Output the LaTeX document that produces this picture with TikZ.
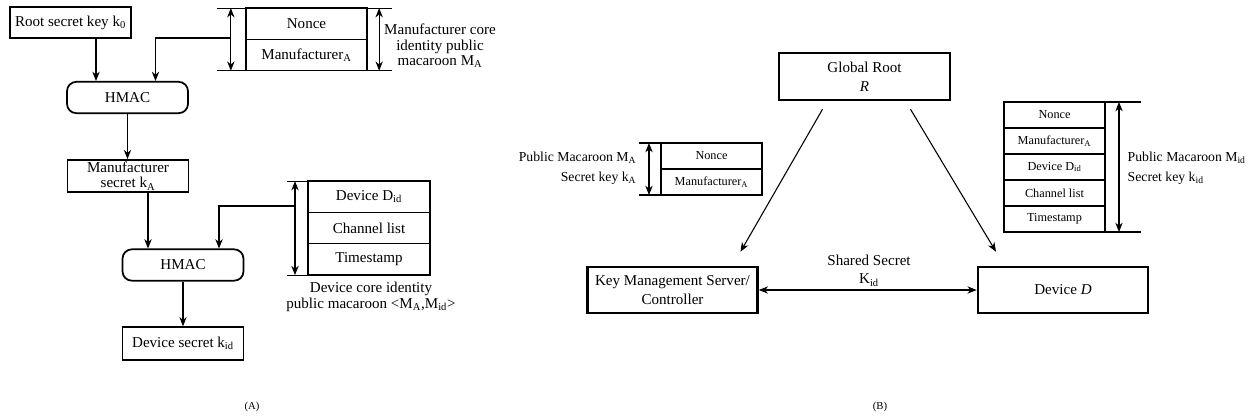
\documentclass[tikz,border=0pt]{standalone}
\usepackage{fontspec}
\setmainfont{Liberation Serif}
\usetikzlibrary{arrows.meta,positioning}

\newcommand\fntA{\fontsize{11.3}{11.5}\selectfont}
\newcommand\fntB{\fontsize{11.3}{14}\selectfont}
\newcommand\fntS{\fontsize{9.2}{11}\selectfont}
\newcommand\fntL{\fontsize{10.3}{15}\selectfont}
\newcommand\fntC{\fontsize{8}{9}\selectfont}

\begin{document}
\begin{tikzpicture}[x=0.75pt,y=-0.75pt,
    box/.style={draw, line width=1.3pt, minimum width=90.75pt, minimum height=23.5pt,
      inner sep=0.5pt, align=center, font=\fntA},
    hmac/.style={box, rounded corners=7pt},
    cellA/.style={draw, line width=1.1pt, outer sep=0pt, minimum width=91pt,
      minimum height=23.5pt, inner sep=0pt, font=\fntA},
    cellB/.style={draw, line width=0.9pt, outer sep=0pt, minimum width=75.75pt,
      minimum height=19.5pt, inner sep=0pt, font=\fntS},
    bigbox/.style={draw, line width=1.9pt, minimum width=127.5pt, minimum height=34.5pt,
      inner sep=1pt, align=center, font=\fntB},
    arr/.style={-{Stealth[length=7pt,width=5.5pt]}, line width=0.8pt},
    darr/.style={{Stealth[length=7pt,width=5.5pt]}-{Stealth[length=7pt,width=5.5pt]}, line width=0.8pt},
    ext/.style={line width=0.8pt},
  ]
  \useasboundingbox (0,0) rectangle (1255,419);

  % ---------------- (A) key derivation ----------------
  \node[box] (root) at (70.5,22.5) {Root secret key k\textsubscript{0}};
  \node[hmac] (hmac1) at (127.5,97.5) {HMAC};
  \node[box, minimum height=24pt] (mfrkey) at (128,176) {Manufacturer\\secret k\textsubscript{A}};
  \node[hmac] (hmac2) at (183,265) {HMAC};
  \node[box, minimum height=24.5pt] (devkey) at (183,343.5) {Device secret k\textsubscript{id}};

  % manufacturer macaroon
  \node[cellA] (nonceA) at (306.5,23.75) {Nonce};
  \node[cellA, below=0pt of nonceA] (manA) {Manufacturer\textsubscript{A}};
  \draw[ext] ([shift={(-29,0)}]nonceA.north west) -- ([shift={(25,0)}]nonceA.north east);
  \draw[ext] ([shift={(-29,0)}]manA.south west) -- ([shift={(25,0)}]manA.south east);
  \draw[darr] ([shift={(-15,0)}]nonceA.north west) -- ([shift={(-15,0)}]manA.south west);
  \draw[darr] ([shift={(12,0)}]nonceA.north east) -- ([shift={(12,0)}]manA.south east);
  \node[font=\fntA, align=center] (macAlbl) at (440,46)
    {Manufacturer core\\identity public\\macaroon M\textsubscript{A}};
  \coordinate (inA) at (231,38);

  % device macaroon
  \node[cellA, minimum width=91.5pt] (devA) at (369,196.75) {Device D\textsubscript{id}};
  \node[cellA, minimum width=91.5pt, below=0pt of devA] (chanA) {Channel list};
  \node[cellA, minimum width=91.5pt, below=0pt of chanA] (timeA) {Timestamp};
  \draw[ext] ([shift={(-21,0)}]devA.north west) -- (devA.north west);
  \draw[ext] ([shift={(-21,0)}]timeA.south west) -- (timeA.south west);
  \draw[darr] ([shift={(-13,0)}]devA.north west) -- ([shift={(-13,0)}]timeA.south west);
  \node[font=\fntA, align=center] (macDlbl) at (371,297)
    {Device core identity\\public macaroon <M\textsubscript{A},M\textsubscript{id}>};
  \coordinate (inB) at (295,206);

  % flow
  \draw[arr] ([shift={(25.5,0)}]root.south) -- ([shift={(-31.5,0)}]hmac1.north);
  \draw[arr] (inA) -| ([shift={(28,0)}]hmac1.north);
  \draw[arr] (hmac1.south) -- (hmac1.south |- mfrkey.north);
  \draw[arr] ([shift={(20,0)}]mfrkey.south) -- ([shift={(-35,0)}]hmac2.north);
  \draw[arr] (inB) -| ([shift={(36,0)}]hmac2.north);
  \draw[arr] (hmac2.south) -- (devkey.north);

  \node[font=\fntC] (capA) at (252,407) {(A)};

  % ---------------- (B) key distribution ----------------
  \node[bigbox, minimum width=128.25pt, minimum height=35.25pt] (groot) at (864.5,76.5)
    {Global Root\\\textit{R}};
  \node[bigbox] (kms) at (672.5,290) {Key Management Server/\\Controller};
  \node[bigbox] (dev) at (1063,290) {Device \textit{D}};

  \draw[arr] ([shift={(-42,8)}]groot.south) -- ([shift={(68,-14)}]kms.north);
  \draw[arr] ([shift={(46,8)}]groot.south) -- ([shift={(-67,-14)}]dev.north);
  \draw[darr] (kms.east) -- (dev.west);
  \node[font=\fntB, align=center] (shared) at (869,270.5) {Shared Secret\\K\textsubscript{id}};

  % public macaroon M_A
  \node[cellB] (nonceB) at (711.5,156) {Nonce};
  \node[cellB, below=0pt of nonceB] (manB) {Manufacturer\textsubscript{A}};
  \draw[ext] ([shift={(-22,0)}]nonceB.north west) -- (nonceB.north west);
  \draw[ext] ([shift={(-22,0)}]manB.south west) -- (manB.south west);
  \draw[darr] ([shift={(-12,0)}]nonceB.north west) -- ([shift={(-12,0)}]manB.south west);
  \node[font=\fntL, align=right, anchor=east] (macBlbl) at (641,168)
    {Public Macaroon M\textsubscript{A}\\Secret key k\textsubscript{A}};

  % public macaroon M_id
  \node[cellB] (nonceC) at (1054.5,115) {Nonce};
  \node[cellB, below=0pt of nonceC] (manC) {Manufacturer\textsubscript{A}};
  \node[cellB, below=0pt of manC] (devC) {Device D\textsubscript{id}};
  \node[cellB, below=0pt of devC] (chanC) {Channel list};
  \node[cellB, below=0pt of chanC] (timeC) {Timestamp};
  \draw[ext] (nonceC.north east) -- ([shift={(36,0)}]nonceC.north east);
  \draw[ext] (timeC.south east) -- ([shift={(36,0)}]timeC.south east);
  \draw[darr] ([shift={(14,0)}]nonceC.north east) -- ([shift={(14,0)}]timeC.south east);
  \node[font=\fntL, align=left, anchor=west] (macClbl) at (1123,168)
    {Public Macaroon M\textsubscript{id}\\Secret key k\textsubscript{id}};

  \node[font=\fntC] (capB) at (880,407) {(B)};
\end{tikzpicture}
\end{document}
